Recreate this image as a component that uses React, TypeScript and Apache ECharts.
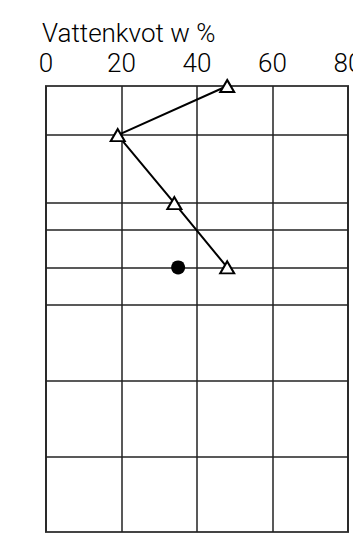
import React, { useEffect, useRef } from "react";
import * as echarts from "echarts";

const xTicks = [0, 20, 40, 60, 80];
const depthMin = 0.1;
const depthMax = 6.0;
const depthLines = [0.75, 1.65, 2.0, 2.5, 3.0, 4.0, 5.0];
const triangleDepths = [0.1, 0.75, 1.65, 2.5];
const triangleValues = [48, 19, 34, 48];
const circleDepths = [2.5];
const circleValues = [35];
const titleText = "Vattenkvot w %";

const FONT = "Roboto, 'Liberation Sans', sans-serif";

export default function App() {
  const ref = useRef<HTMLDivElement>(null);
  useEffect(() => {
    document.body.style.margin = "0";
    if (!ref.current) return;
    const chart = echarts.init(ref.current, null, { renderer: "svg" });
    chart.setOption({
      animation: false,
      backgroundColor: "#ffffff",
      title: {
        text: titleText,
        left: 42,
        top: 20,
        padding: 0,
        textStyle: { fontFamily: FONT, fontSize: 26, fontWeight: 300, color: "#000" },
      },
      grid: {
        left: 46,
        right: 5,
        top: 86,
        bottom: 3,
        show: true,
        borderColor: "#444",
        borderWidth: 2,
        backgroundColor: "transparent",
        outerBoundsMode: "none",
        containLabel: false,
      },
      xAxis: {
        type: "value",
        position: "top",
        min: xTicks[0],
        max: xTicks[xTicks.length - 1],
        interval: 20,
        axisLine: { show: false },
        axisTick: { show: false },
        axisLabel: {
          show: true,
          fontFamily: FONT,
          fontSize: 26,
          fontWeight: 300,
          color: "#000",
          margin: 10,
          showMaxLabel: true,
          showMinLabel: true,
          hideOverlap: false,
        },
        splitLine: { show: true, lineStyle: { color: "#222", width: 1.5 } },
      },
      yAxis: {
        type: "value",
        inverse: true,
        min: depthMin,
        max: depthMax,
        axisLine: { show: false },
        axisTick: { show: false },
        axisLabel: { show: false },
        splitLine: { show: false },
      },
      series: [
        {
          type: "line",
          data: triangleValues.map((v, i) => [v, triangleDepths[i]]),
          symbol: "triangle",
          symbolSize: [14, 12],
          showAllSymbol: true,
          lineStyle: { color: "#000", width: 2 },
          itemStyle: { color: "#fff", borderColor: "#000", borderWidth: 2 },
          z: 5,
          markLine: {
            silent: true,
            symbol: "none",
            label: { show: false },
            lineStyle: { color: "#222", width: 1.5, type: "solid" },
            data: depthLines.map((d) => ({ yAxis: d })),
            z: 1,
          },
        },
        {
          type: "scatter",
          data: circleValues.map((v, i) => [v, circleDepths[i]]),
          symbol: "circle",
          symbolSize: 14,
          itemStyle: { color: "#000", opacity: 1 },
          z: 6,
        },
      ],
    });
    return () => chart.dispose();
  }, []);
  return <div ref={ref} style={{ width: 353, height: 535 }} />;
}
